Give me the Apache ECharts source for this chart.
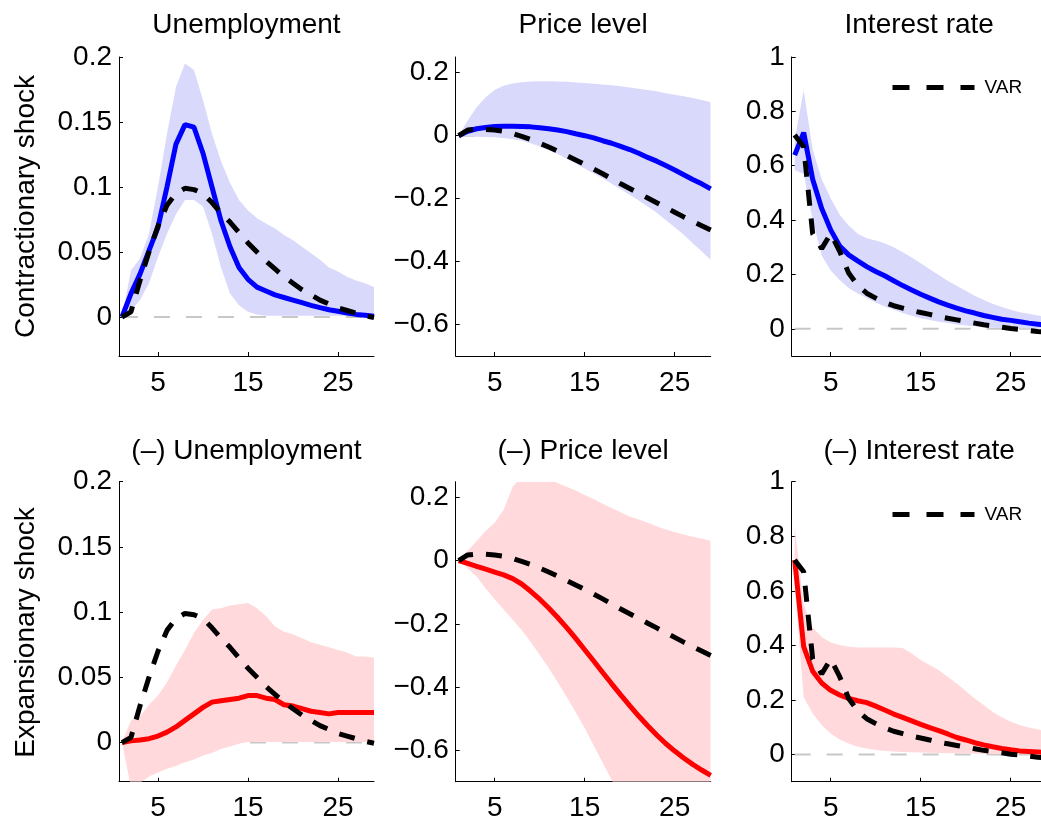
<!DOCTYPE html>
<html>
<head>
<meta charset="utf-8">
<script src="https://cdn.jsdelivr.net/npm/echarts@6/dist/echarts.min.js"></script>
<style>
html,body{margin:0;padding:0;background:#fff;}
#chart{width:1041px;height:821px;}
</style>
</head>
<body>
<div id="chart"></div>
<script>
// ---------------- DATA ----------------
const horizon = [1,2,3,4,5,6,7,8,9,10,11,12,13,14,15,16,17,18,19,20,21,22,23,24,25,26,27,28,29];
const xTicks = [5, 15, 25];
const unempTicks = [0, 0.05, 0.1, 0.15, 0.2];
const priceTicks = [-0.6, -0.4, -0.2, 0, 0.2];
const rateTicks = [0, 0.2, 0.4, 0.6, 0.8, 1];
const unempRange = [-0.03, 0.2];
const priceRange = [-0.7, 0.25];
const rateRange = [-0.1, 1];
const xRange = [0.67, 29];

const titles = ['Unemployment', 'Price level', 'Interest rate',
                '(\u2013) Unemployment', '(\u2013) Price level', '(\u2013) Interest rate'];
const rowLabels = ['Contractionary shock', 'Expansionary shock'];
const legendLabel = 'VAR';

// VAR responses (black dashed)
const varUnemp = [0, 0.004, 0.028, 0.050, 0.070, 0.086, 0.095, 0.099, 0.098, 0.095, 0.088, 0.080, 0.073, 0.065, 0.057, 0.050, 0.043, 0.037, 0.031, 0.026, 0.021, 0.017, 0.013, 0.010, 0.007, 0.005, 0.003, 0.001, -0.0005];
const varPrice = [0, 0.018, 0.021, 0.020, 0.018, 0.014, 0.007, -0.002, -0.012, -0.024, -0.036, -0.049, -0.063, -0.077, -0.091, -0.106, -0.121, -0.137, -0.153, -0.168, -0.183, -0.198, -0.213, -0.228, -0.243, -0.258, -0.272, -0.286, -0.300];
const varRate = [0.713, 0.670, 0.350, 0.295, 0.350, 0.285, 0.205, 0.160, 0.131, 0.113, 0.097, 0.085, 0.076, 0.067, 0.060, 0.053, 0.045, 0.039, 0.033, 0.027, 0.021, 0.015, 0.011, 0.006, 0.001, -0.002, -0.006, -0.010, -0.013];

// Contractionary shock (blue)
const unempContrMid  = [0, 0.018, 0.033, 0.051, 0.069, 0.100, 0.133, 0.148, 0.146, 0.126, 0.100, 0.074, 0.054, 0.038, 0.029, 0.023, 0.020, 0.017, 0.015, 0.013, 0.011, 0.009, 0.0072, 0.0056, 0.0044, 0.0030, 0.0020, 0.0013, 0.0005];
const unempContrLow  = [0, 0.005, 0.013, 0.026, 0.046, 0.064, 0.079, 0.090, 0.090, 0.085, 0.064, 0.038, 0.018, 0.009, 0.004, 0.002, 0.001, 0.001, 0.001, 0.001, 0.001, 0.001, 0.001, 0.001, 0.001, 0.001, 0.001, 0.001, 0.001];
const unempContrHigh = [0, 0.036, 0.045, 0.064, 0.100, 0.141, 0.177, 0.195, 0.190, 0.167, 0.141, 0.120, 0.103, 0.090, 0.082, 0.076, 0.072, 0.068, 0.063, 0.059, 0.054, 0.049, 0.044, 0.038, 0.035, 0.031, 0.028, 0.026, 0.023];

const priceContrMid  = [0, 0.014, 0.022, 0.026, 0.029, 0.030, 0.030, 0.029, 0.028, 0.025, 0.022, 0.018, 0.013, 0.006, 0.000, -0.007, -0.016, -0.024, -0.034, -0.044, -0.056, -0.069, -0.081, -0.095, -0.109, -0.124, -0.139, -0.153, -0.169];
const priceContrLow  = [0, -0.002, -0.003, -0.004, -0.005, -0.007, -0.011, -0.016, -0.024, -0.034, -0.046, -0.058, -0.073, -0.088, -0.104, -0.120, -0.135, -0.153, -0.170, -0.188, -0.206, -0.225, -0.245, -0.268, -0.291, -0.315, -0.342, -0.367, -0.395];
const priceContrHigh = [0, 0.048, 0.090, 0.122, 0.145, 0.159, 0.166, 0.170, 0.172, 0.173, 0.173, 0.172, 0.171, 0.169, 0.167, 0.165, 0.163, 0.160, 0.157, 0.153, 0.149, 0.145, 0.141, 0.135, 0.130, 0.125, 0.120, 0.113, 0.106];

const rateContrMid  = [0.639, 0.722, 0.550, 0.443, 0.364, 0.305, 0.272, 0.250, 0.229, 0.211, 0.195, 0.177, 0.159, 0.143, 0.127, 0.113, 0.099, 0.087, 0.076, 0.066, 0.058, 0.049, 0.042, 0.035, 0.031, 0.026, 0.021, 0.017, 0.013];
const rateContrLow  = [0.584, 0.570, 0.400, 0.270, 0.215, 0.180, 0.150, 0.130, 0.113, 0.097, 0.082, 0.070, 0.058, 0.048, 0.039, 0.032, 0.026, 0.021, 0.016, 0.012, 0.009, 0.006, 0.004, 0.003, 0.002, 0.002, 0.001, 0.001, 0.001];
const rateContrHigh = [0.694, 0.878, 0.660, 0.550, 0.480, 0.420, 0.380, 0.350, 0.333, 0.325, 0.315, 0.300, 0.282, 0.262, 0.241, 0.219, 0.198, 0.177, 0.158, 0.140, 0.122, 0.106, 0.092, 0.080, 0.070, 0.061, 0.055, 0.049, 0.045];

// Expansionary shock (red)
const unempExpMid  = [0, 0.0013, 0.002, 0.003, 0.005, 0.008, 0.012, 0.017, 0.022, 0.027, 0.031, 0.032, 0.033, 0.034, 0.036, 0.036, 0.034, 0.033, 0.029, 0.028, 0.026, 0.024, 0.023, 0.022, 0.023, 0.023, 0.023, 0.023, 0.023];
const unempExpLow  = [0, -0.034, -0.031, -0.026, -0.023, -0.020, -0.018, -0.015, -0.013, -0.010, -0.008, -0.005, -0.003, -0.001, 0.0005, 0.0005, 0.0005, 0.0005, 0.0005, 0.0005, 0.0005, 0.0005, 0.0005, 0.0005, 0.0005, 0.0005, 0.0005, 0.0005, 0.0005];
const unempExpHigh = [0, 0.017, 0.020, 0.029, 0.036, 0.046, 0.059, 0.071, 0.084, 0.094, 0.102, 0.103, 0.105, 0.106, 0.107, 0.103, 0.097, 0.089, 0.085, 0.083, 0.080, 0.077, 0.075, 0.073, 0.071, 0.069, 0.066, 0.066, 0.065];

const priceExpMid  = [0, -0.009, -0.018, -0.027, -0.036, -0.045, -0.057, -0.074, -0.097, -0.122, -0.150, -0.180, -0.212, -0.246, -0.282, -0.318, -0.354, -0.390, -0.425, -0.459, -0.492, -0.523, -0.552, -0.579, -0.603, -0.625, -0.645, -0.663, -0.680];
const priceExpLow  = [0, -0.025, -0.050, -0.088, -0.122, -0.155, -0.187, -0.220, -0.258, -0.298, -0.340, -0.385, -0.432, -0.480, -0.530, -0.585, -0.640, -0.695, -0.752, -0.81, -0.86, -0.91, -0.95, -0.99, -1.03, -1.06, -1.09, -1.12, -1.15];
const priceExpHigh = [0, 0.031, 0.062, 0.094, 0.120, 0.161, 0.234, 0.265, 0.272, 0.272, 0.262, 0.245, 0.234, 0.222, 0.208, 0.195, 0.180, 0.167, 0.153, 0.140, 0.130, 0.120, 0.109, 0.099, 0.091, 0.083, 0.076, 0.070, 0.062];

const rateExpMid  = [0.713, 0.395, 0.305, 0.262, 0.235, 0.218, 0.205, 0.197, 0.190, 0.177, 0.163, 0.148, 0.136, 0.123, 0.110, 0.098, 0.087, 0.075, 0.062, 0.053, 0.043, 0.035, 0.028, 0.022, 0.017, 0.013, 0.011, 0.009, 0.006];
const rateExpLow  = [0.620, 0.210, 0.150, 0.108, 0.077, 0.055, 0.040, 0.028, 0.022, 0.016, 0.013, 0.011, 0.009, 0.008, 0.007, 0.006, 0.005, 0.004, 0.004, 0.003, 0.003, 0.002, 0.002, 0.002, 0.001, 0.001, 0.001, 0.001, 0.001];
const rateExpHigh = [0.835, 0.550, 0.465, 0.431, 0.410, 0.401, 0.395, 0.392, 0.392, 0.392, 0.392, 0.392, 0.390, 0.370, 0.346, 0.328, 0.309, 0.285, 0.260, 0.233, 0.205, 0.181, 0.156, 0.136, 0.120, 0.108, 0.099, 0.092, 0.083];

// ---------------- LAYOUT / STYLE ----------------
const FONT = '"Liberation Sans", Arial, Helvetica, sans-serif';
const colLeft = [119, 455.7, 791.7];
const rowTop = [57, 481.7];
const plotW = 255;
const plotH = [299, 300];
const titleTop = [11, 437.5];
const rowLabelY = [206.5, 632.5];
const legendTop = [78, 505];

const tones = {
  contr: { line: '#0000ff', band: '#d9d9fb' },
  exp:   { line: '#ff0000', band: '#ffd9dc' }
};

const panels = [
  { mid: unempContrMid, low: unempContrLow, high: unempContrHigh, varLine: varUnemp, ticks: unempTicks, range: unempRange, tone: 'contr' },
  { mid: priceContrMid, low: priceContrLow, high: priceContrHigh, varLine: varPrice, ticks: priceTicks, range: priceRange, tone: 'contr' },
  { mid: rateContrMid,  low: rateContrLow,  high: rateContrHigh,  varLine: varRate,  ticks: rateTicks,  range: rateRange,  tone: 'contr', legend: true },
  { mid: unempExpMid,   low: unempExpLow,   high: unempExpHigh,   varLine: varUnemp, ticks: unempTicks, range: unempRange, tone: 'exp' },
  { mid: priceExpMid,   low: priceExpLow,   high: priceExpHigh,   varLine: varPrice, ticks: priceTicks, range: priceRange, tone: 'exp' },
  { mid: rateExpMid,    low: rateExpLow,    high: rateExpHigh,    varLine: varRate,  ticks: rateTicks,  range: rateRange,  tone: 'exp', legend: true }
];

const pairs = arr => horizon.map((h, i) => [h, arr[i]]);
const fmt = v => String(v).replace('-', '\u2212');

function bandRenderer(color) {
  return function (params, api) {
    if (params.dataIndexInside !== 0) return null;
    const n = params.dataInsideLength;
    const upper = [], lower = [];
    for (let k = 0; k < n; k++) {
      const x = api.value(0, k);
      upper.push(api.coord([x, api.value(2, k)]));
      lower.push(api.coord([x, api.value(1, k)]));
    }
    const cs = params.coordSys;
    return {
      type: 'polygon',
      shape: { points: upper.concat(lower.reverse()) },
      style: { fill: color, stroke: null },
      clipPath: { type: 'rect', shape: { x: cs.x, y: cs.y, width: cs.width, height: cs.height } },
      silent: true
    };
  };
}

const grid = [], xAxis = [], yAxis = [], series = [], title = [], legend = [];

panels.forEach((p, i) => {
  const row = Math.floor(i / 3), col = i % 3;
  const tone = tones[p.tone];
  grid.push({ left: colLeft[col], top: rowTop[row], width: plotW, height: plotH[row], containLabel: false, outerBoundsMode: 'none' });
  xAxis.push({
    type: 'value', gridIndex: i, min: xRange[0], max: xRange[1],
    axisLine: { show: true, onZero: false, lineStyle: { color: '#000', width: 1 } },
    axisTick: { show: true, inside: true, length: 4, customValues: xTicks, lineStyle: { color: '#000', width: 1 } },
    axisLabel: { customValues: xTicks, color: '#000', fontSize: 28, fontFamily: FONT, margin: 13 },
    splitLine: { show: false }
  });
  yAxis.push({
    type: 'value', gridIndex: i, min: p.range[0], max: p.range[1],
    axisLine: { show: true, onZero: false, lineStyle: { color: '#000', width: 1 } },
    axisTick: { show: true, inside: true, length: 4, customValues: p.ticks, lineStyle: { color: '#000', width: 1 } },
    axisLabel: { customValues: p.ticks, color: '#000', fontSize: 28, fontFamily: FONT, margin: 7, formatter: fmt },
    splitLine: { show: false }
  });
  title.push({
    text: titles[i], left: colLeft[col] + plotW / 2, top: titleTop[row], textAlign: 'center', padding: 0,
    textStyle: { color: '#000', fontSize: 28, fontWeight: 'normal', fontFamily: FONT }
  });
  // zero reference line
  series.push({
    type: 'line', xAxisIndex: i, yAxisIndex: i, silent: true, symbol: 'none', z: 1,
    data: horizon.map(h => [h, 0]),
    lineStyle: { color: '#c8c8c8', width: 2, type: [16, 16] }
  });
  // confidence band
  series.push({
    type: 'custom', xAxisIndex: i, yAxisIndex: i, silent: true, z: 2, clip: true,
    data: horizon.map((h, k) => [h, p.low[k], p.high[k]]),
    encode: { x: 0, y: [1, 2] },
    renderItem: bandRenderer(tone.band)
  });
  // median response
  series.push({
    type: 'line', xAxisIndex: i, yAxisIndex: i, silent: true, symbol: 'none', z: 3,
    data: pairs(p.mid), lineStyle: { color: tone.line, width: 5 }
  });
  // VAR response
  series.push({
    name: legendLabel, type: 'line', xAxisIndex: i, yAxisIndex: i, silent: true, symbol: 'none', z: 4,
    data: pairs(p.varLine), itemStyle: { color: '#000' },
    lineStyle: { color: '#000', width: 5, type: [16, 13], cap: 'butt' }
  });
  if (p.legend) {
    legend.push({
      data: [legendLabel], left: 890, top: legendTop[row], padding: 0, selectedMode: false,
      itemWidth: 82, itemHeight: 20,
      itemStyle: { opacity: 0 },
      lineStyle: { color: '#000', width: 5, type: [17, 17], cap: 'butt' },
      textStyle: { color: '#000', fontSize: 19, fontFamily: FONT, padding: [0, 0, 0, 5] }
    });
  }
});

const graphic = rowLabels.map((t, r) => ({
  type: 'text', x: 26, y: rowLabelY[r], rotation: Math.PI / 2,
  style: { text: t, fill: '#000', font: '28px ' + FONT, textAlign: 'center', textVerticalAlign: 'middle' }
}));

const chart = echarts.init(document.getElementById('chart'), null, { renderer: 'canvas' });
chart.setOption({
  animation: false,
  backgroundColor: '#fff',
  title, grid, xAxis, yAxis, series, legend, graphic
});
</script>
</body>
</html>
